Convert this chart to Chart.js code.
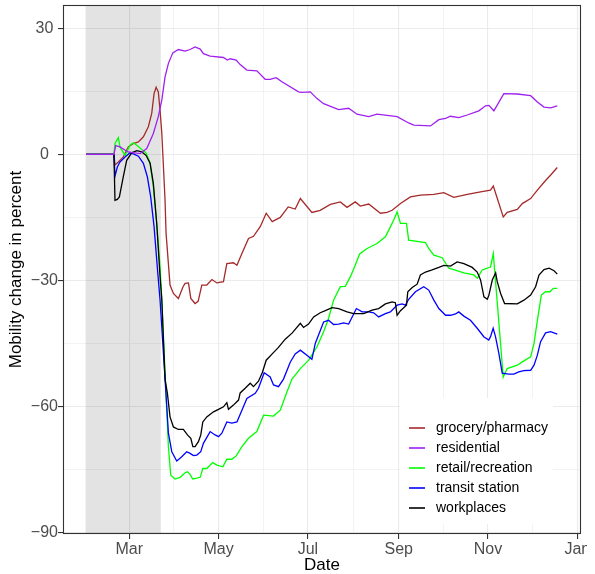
<!DOCTYPE html>
<html lang="en">
<head>
<meta charset="UTF-8">
<title>Mobility change in percent</title>
<script src="https://cdn.jsdelivr.net/npm/chart.js"></script>
<style>
  html, body { margin: 0; padding: 0; background: #ffffff; }
  #wrap { width: 587px; height: 574px; overflow: hidden; }
</style>
</head>
<body>
<div id="wrap"><canvas id="mobilityChart" width="587" height="574"></canvas></div>
<script>
// x values are days counted from 1 Jan 2020 (= day 0)
const seriesNames = ['grocery/pharmacy', 'residential', 'retail/recreation', 'transit station', 'workplaces'];
const seriesColors = ['#A52A2A', '#A020F0', '#00FF00', '#0000FF', '#000000'];
// drawing order: lower number ends up on top
const seriesOrder = [4, 0, 3, 2, 1];

const grocery = [[30.4,0],[49.5,0],[50.2,-2.5],[52.5,-1.8],[55.9,-0.6],[59.3,1.8],[62.7,2.6],[66.2,3.0],[69.6,4.2],[73,6.6],[75.3,9.8],[76.9,14.5],[78.3,16],[79.8,14.9],[81,10.5],[82.2,5],[84.4,-10.9],[85.1,-18.8],[87.8,-31.1],[90.1,-33.1],[93.5,-34.3],[96.7,-31.5],[98.1,-30.7],[100.4,-30.6],[102,-34.3],[104.9,-35.5],[107,-35],[109.5,-31.1],[112.9,-31.1],[116.4,-29.8],[119.8,-30.6],[124.3,-30.3],[126.6,-26],[131.1,-25.8],[133.5,-26.4],[136.9,-23.6],[141.4,-20],[144.8,-19.5],[149.4,-17.2],[153.5,-14],[157.6,-16],[163.1,-15],[168.5,-12.5],[173.3,-13],[176.8,-10.5],[184.7,-13.8],[190.4,-13.3],[197.3,-11.9],[204.1,-11.3],[208.7,-12.6],[214.3,-11.3],[217.8,-12.3],[223.5,-11.8],[231.5,-14.0],[236,-13.8],[239.5,-13.3],[245.2,-11.7],[252,-10.1],[258.8,-9.7],[268,-9.5],[274.8,-9.1],[281.6,-10.2],[290.8,-9.5],[299.9,-8.9],[306.7,-8.5],[308.6,-7.5],[315.4,-14.9],[318.1,-13.8],[325,-13.1],[328.4,-11.7],[334.1,-10.5],[338.7,-8.5],[344.3,-6.2],[347.8,-4.9],[352.3,-3.1]];

const residential = [[30.4,0],[49.5,0],[50.7,2.1],[53.6,1.8],[59.1,0.6],[67.3,0.2],[71.9,1.4],[76.4,5],[79.8,9],[82.2,13],[84.4,18.5],[86.7,21.7],[89.7,24.2],[93.5,25],[98.1,24.6],[101.5,25.0],[104.9,25.6],[108.4,25.1],[110.6,24.0],[115.2,23.4],[124.3,23.1],[127,22.5],[128.9,22.8],[133,22.5],[135.7,21.4],[140.3,20.1],[147.1,19.9],[152.8,17.9],[156.2,17.9],[160.3,18.3],[164.2,17.3],[175.6,14.9],[177.9,14.8],[183.6,14.9],[188.2,13.3],[192.7,12.1],[203,10.7],[209.8,11.0],[215.5,9.6],[223.5,9.0],[229.2,9.6],[242.9,9.0],[250.8,7.5],[254.3,7.0],[265.7,6.8],[271.4,8.3],[276,8.6],[279.4,9.1],[285,8.8],[290.8,9.4],[298.7,10.4],[303.3,11.6],[305.6,11.7],[309,10.4],[315.8,14.5],[325,14.4],[334.1,14.0],[338.7,12.5],[343.2,11.3],[347.8,11.1],[352.3,11.6]];

const retail = [[30.4,0],[49.5,0],[50.2,2.6],[52.5,4.0],[53.6,1.8],[57.1,-0.2],[60.5,2.2],[62.7,2.8],[65.1,2.2],[68.5,1.2],[71.4,0.4],[74.2,-2.1],[76.4,-7.7],[78.7,-16.4],[81,-26.8],[82.2,-34.7],[84.4,-52],[86.7,-69.6],[88.3,-76.4],[91.3,-77.3],[94.7,-76.9],[98.1,-75.8],[99.7,-75.6],[101.5,-76.2],[103.3,-77.3],[106.1,-77.1],[108.4,-76.9],[110.2,-74.8],[112.9,-74.8],[117,-73.4],[119.8,-74],[123.9,-74.4],[126.6,-72.6],[130,-72.6],[133,-71.8],[136.9,-69.6],[141.4,-67.6],[147.1,-66],[151.7,-62.1],[158.5,-62.3],[163.1,-60.9],[167.7,-56.5],[171.1,-53.5],[176.8,-51],[182.5,-49],[188.2,-45.8],[192.7,-42.2],[196.1,-39],[199.5,-34.7],[204.1,-31.5],[207.5,-31.4],[211,-29.1],[214.3,-26.4],[217.3,-23.7],[222.4,-22.4],[229.2,-21.2],[234.9,-19.6],[237.8,-17.6],[240.6,-15.6],[242.9,-13.7],[245.2,-16.4],[249.3,-16.4],[250.8,-20.4],[262.3,-21],[264.5,-22.4],[268,-24],[273.7,-24.6],[278.2,-27.1],[282.1,-27.5],[288.5,-28.2],[295.3,-28.7],[297.7,-29.5],[301,-27.5],[304.5,-27.1],[306.7,-26.8],[308.6,-23.6],[315.4,-53],[318.1,-51],[325,-50.2],[328.4,-49.4],[334.1,-48.2],[336.4,-45],[338.7,-39.5],[341.4,-33.5],[344.3,-32.7],[347.3,-32.7],[349.6,-31.9],[352.3,-31.9]];

const transit = [[30.4,0],[49.5,0],[50.2,-5.2],[51.8,-3],[53.6,-1.8],[57.1,-0.6],[60.5,0.4],[63.2,0.1],[66.2,-0.4],[69.6,-2.1],[72.3,-5.3],[74.6,-10.1],[76.9,-17.2],[79.1,-26.8],[81,-34.7],[84.4,-53.5],[86.7,-66.4],[89,-70.8],[92.4,-73],[95.8,-72],[99.2,-70.8],[101.5,-71.2],[103.8,-71.7],[106.1,-71.6],[108.8,-70.8],[110.6,-68.8],[115.2,-66],[118.6,-66.8],[120.9,-67.2],[123.2,-66.4],[126.6,-63.7],[130,-64],[133.5,-63.7],[136.9,-60.9],[140.3,-58.1],[146,-56.9],[148.2,-55.7],[152.1,-52],[156.2,-53],[158.5,-54.9],[161.9,-55.3],[165.3,-53.5],[169.9,-49.5],[173.3,-47.5],[176.8,-46.6],[181.3,-47.8],[184.7,-48.8],[187,-45],[192.7,-39.9],[196.1,-39.5],[199.5,-40.5],[203,-40.4],[206.4,-40.1],[209.8,-40.4],[215.1,-36.7],[219,-37.5],[223.5,-37.5],[226.9,-37.7],[230.3,-38.7],[234.9,-37.9],[238.3,-37.5],[242.9,-35.9],[246.3,-35.6],[248.6,-35.9],[250.8,-34.5],[255.4,-32.7],[261.1,-31.5],[264.5,-32.3],[268,-34.7],[271.4,-36.7],[276,-38.3],[279.4,-38.3],[282.8,-38],[285,-37.5],[288.5,-38.5],[293,-39.5],[297.6,-41.4],[302.1,-43.4],[305.5,-44.2],[306.7,-43.4],[308.5,-41.4],[310.1,-43.4],[312.4,-47.4],[314.7,-52.1],[319.2,-52.3],[322.6,-52.3],[326,-51.8],[329.4,-51.5],[334.1,-51.4],[336.4,-50.2],[338.7,-47.8],[340.9,-44.6],[344.3,-42.5],[347.8,-42.2],[352.3,-42.8]];

const workplaces = [[30.4,0],[49.5,0],[50.2,-10.9],[51.8,-10.7],[53.2,-10.1],[55.9,-5.3],[58.2,-1.4],[61.6,0.4],[65.1,0.9],[68.5,0.6],[71.4,-0.2],[74.2,-2.1],[76.4,-6.9],[78.7,-16.4],[81,-29.1],[82.2,-34.7],[84.4,-53.5],[86,-56.9],[87.8,-62.5],[90.1,-64.9],[93.5,-65.5],[96.9,-65.5],[99.7,-66.8],[102,-67.6],[103.4,-69.6],[104.9,-69.6],[107.2,-68.4],[108.8,-66.8],[110.2,-63.7],[112.9,-62.5],[117.5,-61.3],[120.9,-60.7],[124.3,-60.1],[126.6,-59.1],[127.7,-60.7],[131.1,-59.7],[134.6,-58.5],[135.7,-56.8],[139.1,-55.7],[142.6,-54.5],[144.8,-55.3],[148.2,-54],[150.8,-52],[153.5,-49],[157.6,-47.5],[161.7,-46],[166.5,-44],[171.3,-42.5],[176.8,-40.2],[179,-41.2],[182.4,-40.4],[185.9,-38.7],[190.4,-37.7],[193.9,-37.2],[198.4,-36.5],[203,-36.7],[208.7,-37.5],[213.2,-37.9],[220.1,-37.9],[225.8,-37.1],[230.3,-36.7],[234.9,-35.6],[239.5,-35.1],[241.7,-35.3],[242.9,-38.3],[245.2,-37.2],[249.3,-35.9],[250.2,-32.7],[253.2,-31.7],[256.6,-30.9],[258.8,-28.7],[262.3,-28],[266.8,-27.5],[271.4,-26.9],[274.8,-26.4],[279.4,-26.6],[283.9,-25.6],[288.5,-26],[294.2,-26.9],[297.6,-28],[299.9,-29.9],[302.2,-33.9],[304.5,-34.5],[305.6,-33.5],[307.9,-29.9],[310.2,-28.2],[311.3,-30.3],[313.6,-33.1],[316.3,-35.5],[325,-35.6],[329.5,-34.7],[334.1,-33.5],[337.5,-31.5],[339.8,-28.7],[343.2,-27.4],[346.7,-27.1],[350.1,-27.7],[352.3,-28.5]];

const allSeries = [grocery, residential, retail, transit, workplaces];

// axis breaks
const majorDays = [60, 121, 182, 244, 305, 366];
const majorLabels = ['Mar', 'May', 'Jul', 'Sep', 'Nov', 'Jan'];
const minorDays = [30, 90.5, 151.5, 213, 274.5, 335.5];
const yMajor = [-90, -60, -30, 0, 30];
const yMinor = [-75, -45, -15, 15];
const shadedDays = [30.4, 81.5];

const tickFont = { family: "'Liberation Sans', Arial, sans-serif", size: 16 };
const titleFont = { family: "'Liberation Sans', Arial, sans-serif", size: 17, lineHeight: 1 };

// grey period, panel border and the legend inside the panel
const panelExtras = {
    id: 'panelExtras',
    beforeDatasetsDraw(chart) {
        const { ctx, chartArea, scales } = chart;
        const x0 = scales.x.getPixelForValue(shadedDays[0]);
        const x1 = scales.x.getPixelForValue(shadedDays[1]);
        ctx.save();
        ctx.fillStyle = 'rgba(0,0,0,0.11)';
        ctx.fillRect(x0, chartArea.top, x1 - x0, chartArea.bottom - chartArea.top);
        ctx.restore();
    },
    afterDatasetsDraw(chart) {
        const { ctx, chartArea } = chart;
        ctx.save();
        ctx.strokeStyle = '#333333';
        ctx.lineWidth = 1.1;
        ctx.strokeRect(chartArea.left + 0.5, chartArea.top + 0.5,
            chartArea.right - chartArea.left - 1, chartArea.bottom - chartArea.top - 1);

        // legend box
        const boxW = 153, boxH = 126;
        const bx = chartArea.right - 28 - boxW;
        const by = chartArea.bottom - 10 - boxH;
        ctx.fillStyle = '#ffffff';
        ctx.fillRect(bx, by, boxW, boxH);
        ctx.font = "14px 'Liberation Sans', Arial, sans-serif";
        ctx.textBaseline = 'middle';
        ctx.textAlign = 'left';
        chart.data.datasets.forEach((ds, i) => {
            const yy = by + 30 + i * 20;
            ctx.strokeStyle = ds.borderColor;
            ctx.lineWidth = 1.6;
            ctx.beginPath();
            ctx.moveTo(bx + 9, yy);
            ctx.lineTo(bx + 25, yy);
            ctx.stroke();
            ctx.fillStyle = '#000000';
            ctx.fillText(ds.label, bx + 36, yy);
        });
        ctx.restore();
    }
};

const ctx = document.getElementById('mobilityChart').getContext('2d');
new Chart(ctx, {
    type: 'line',
    data: {
        datasets: seriesNames.map((name, i) => ({
            label: name,
            data: allSeries[i].map(p => ({ x: p[0], y: p[1] })),
            borderColor: seriesColors[i],
            backgroundColor: seriesColors[i],
            borderWidth: 1.3,
            pointRadius: 0,
            tension: 0,
            fill: false,
            order: seriesOrder[i]
        }))
    },
    options: {
        responsive: false,
        animation: false,
        layout: { padding: { top: 5, right: 6, bottom: 0, left: 0 } },
        plugins: {
            legend: { display: false },
            tooltip: { enabled: false }
        },
        scales: {
            x: {
                type: 'linear',
                min: 14.7,
                max: 368.5,
                afterBuildTicks(scale) {
                    scale.ticks = majorDays.concat(minorDays).sort((a, b) => a - b).map(v => ({ value: v }));
                },
                afterFit(scale) {
                    scale.height = 40;
                    scale.paddingLeft = 0;
                    scale.paddingRight = 0;
                },
                ticks: {
                    autoSkip: false,
                    maxRotation: 0,
                    padding: 1,
                    color: '#4D4D4D',
                    font: tickFont,
                    callback: (v) => {
                        const k = majorDays.indexOf(v);
                        return k >= 0 ? majorLabels[k] : '';
                    }
                },
                grid: {
                    color: '#EBEBEB',
                    lineWidth: (c) => majorDays.includes(c.tick.value) ? 1.1 : 0.6,
                    tickColor: (c) => majorDays.includes(c.tick.value) ? '#333333' : 'rgba(0,0,0,0)',
                    tickWidth: 1.1,
                    tickLength: 5
                },
                border: { display: false },
                title: {
                    display: true,
                    text: 'Date',
                    color: '#000000',
                    font: titleFont,
                    padding: { top: 0, bottom: 0 }
                }
            },
            y: {
                type: 'linear',
                min: -90.4,
                max: 35.6,
                afterBuildTicks(scale) {
                    scale.ticks = yMajor.concat(yMinor).sort((a, b) => a - b).map(v => ({ value: v }));
                },
                afterFit(scale) {
                    scale.width = 63;
                    scale.paddingTop = 0;
                    scale.paddingBottom = 0;
                },
                ticks: {
                    crossAlign: 'center',
                    padding: 0,
                    color: '#4D4D4D',
                    font: tickFont,
                    callback: (v) => yMajor.includes(v) ? (v < 0 ? '\u2212' + Math.abs(v) : String(v)) : ''
                },
                grid: {
                    color: '#EBEBEB',
                    lineWidth: (c) => yMajor.includes(c.tick.value) ? 1.1 : 0.6,
                    tickColor: (c) => yMajor.includes(c.tick.value) ? '#333333' : 'rgba(0,0,0,0)',
                    tickWidth: 1.1,
                    tickLength: 5
                },
                border: { display: false },
                title: {
                    display: true,
                    text: 'Mobility change in percent',
                    color: '#000000',
                    font: titleFont,
                    padding: { top: 8, bottom: 0 }
                }
            }
        }
    },
    plugins: [panelExtras]
});
</script>
</body>
</html>
